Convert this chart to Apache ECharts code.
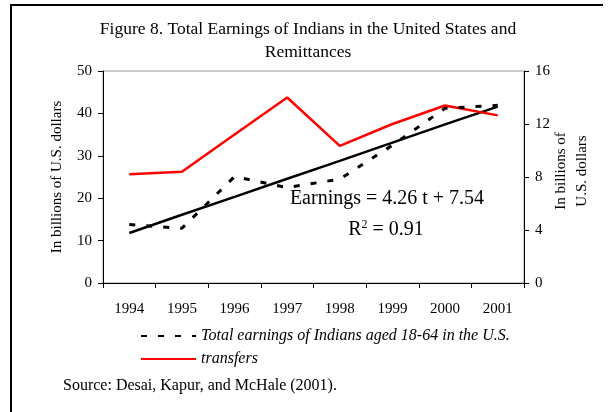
<!DOCTYPE html>
<html>
<head>
<meta charset="utf-8">
<script src="https://cdn.jsdelivr.net/npm/echarts@6/dist/echarts.min.js"></script>
<style>
  html, body { margin: 0; padding: 0; background: #fff; overflow: hidden; }
  #chart { width: 608px; height: 412px; }
</style>
</head>
<body>
<div id="chart"></div>
<script>
// years on the category axis
const years = ['1994', '1995', '1996', '1997', '1998', '1999', '2000', '2001'];
// total earnings, billions US$ (left axis)
const earnings = [13.8, 12.9, 25.1, 22.5, 24.5, 32.5, 41.2, 41.9];
// fitted trend: Earnings = 4.26 t + 7.54
const trend = [11.8, 16.1, 20.3, 24.6, 28.8, 33.1, 37.4, 41.6];
// remittance transfers, billions US$ (right axis)
const transfers = [8.2, 8.4, 11.2, 14.0, 10.35, 12.0, 13.4, 12.65];

const leftTicks = { min: 0, max: 50, interval: 10 };
const rightTicks = { min: 0, max: 16, interval: 4 };

const serif = 'Liberation Serif';
const chart = echarts.init(document.getElementById('chart'));

chart.setOption({
  animation: false,
  textStyle: { fontFamily: serif, color: '#000' },
  grid: {
    left: 103, right: 84, top: 71, bottom: 129,
    outerBoundsMode: 'none',
    show: true, borderColor: '#999', borderWidth: 1
  },
  legend: {
    orient: 'vertical',
    left: 135, top: 323,
    itemWidth: 55, itemHeight: 12, itemGap: 7,
    itemStyle: { opacity: 0 },
    textStyle: { fontFamily: serif, fontStyle: 'italic', fontSize: 16, color: '#000' },
    data: [
      { name: 'Total earnings of Indians aged 18-64 in the U.S.' },
      { name: 'transfers' }
    ]
  },
  xAxis: {
    type: 'category',
    data: years,
    boundaryGap: true,
    axisLine: { lineStyle: { color: '#000', width: 1 } },
    axisTick: { show: true, inside: false, length: 5, lineStyle: { color: '#000' } },
    axisLabel: { fontFamily: serif, fontSize: 15, color: '#000', margin: 19 }
  },
  yAxis: [
    {
      type: 'value',
      position: 'left',
      ...leftTicks,
      name: 'In billions of U.S. dollars',
      nameLocation: 'middle',
      nameRotate: 90,
      nameGap: 38,
      nameTextStyle: { fontFamily: serif, fontSize: 15, color: '#000' },
      axisLine: { show: true, lineStyle: { color: '#000' } },
      axisTick: { show: true, length: 5, lineStyle: { color: '#000' } },
      axisLabel: { fontFamily: serif, fontSize: 15, color: '#000', margin: 11 },
      splitLine: { show: false }
    },
    {
      type: 'value',
      position: 'right',
      ...rightTicks,
      name: 'In billions of\nU.S. dollars',
      nameLocation: 'middle',
      nameRotate: 90,
      nameGap: 27,
      nameMoveOverlap: false,
      nameTextStyle: { fontFamily: serif, fontSize: 15, color: '#000', lineHeight: 21, padding: [0, 0, 0, 12] },
      axisLine: { show: true, lineStyle: { color: '#000' } },
      axisTick: { show: true, length: 5, lineStyle: { color: '#000' } },
      axisLabel: { fontFamily: serif, fontSize: 15, color: '#000', margin: 11 },
      splitLine: { show: false }
    }
  ],
  series: [
    {
      name: 'transfers',
      type: 'line',
      yAxisIndex: 1,
      data: transfers,
      symbol: 'none',
      lineStyle: { color: '#ff0000', width: 2.5 },
      itemStyle: { color: '#ff0000' },
      z: 3
    },
    {
      name: 'Total earnings of Indians aged 18-64 in the U.S.',
      type: 'line',
      yAxisIndex: 0,
      data: earnings,
      symbol: 'none',
      lineStyle: { color: '#000', width: 3, type: [6, 11] },
      itemStyle: { color: '#000' },
      z: 4
    },
    {
      name: 'trend',
      type: 'line',
      yAxisIndex: 0,
      data: trend,
      symbol: 'none',
      lineStyle: { color: '#000', width: 2.5 },
      itemStyle: { color: '#000' },
      z: 2
    }
  ],
  graphic: [
    {
      type: 'polyline',
      shape: { points: [[11, 412], [11, 5], [603, 5]] },
      style: { fill: null, stroke: '#000', lineWidth: 2 },
      silent: true, z: -1
    },
    {
      type: 'text',
      x: 308, y: 18,
      style: {
        text: 'Figure 8. Total Earnings of Indians in the United States and\nRemittances',
        font: '17.5px "Liberation Serif"',
        align: 'center', lineHeight: 23, fill: '#000'
      }
    },
    {
      type: 'text',
      x: 387, y: 189,
      style: {
        text: 'Earnings = 4.26 t + 7.54',
        font: '20px "Liberation Serif"',
        align: 'center', fill: '#000'
      }
    },
    {
      type: 'text',
      x: 386, y: 219,
      style: {
        text: '{b|R}{s|2}{b| = 0.91}',
        align: 'center', fill: '#000',
        rich: {
          b: { fontFamily: serif, fontSize: 20, fill: '#000', color: '#000' },
          s: { fontFamily: serif, fontSize: 12, fill: '#000', color: '#000', verticalAlign: 'top', padding: [0, 0, 10, 0] }
        }
      }
    },
    {
      type: 'text',
      x: 63, y: 378,
      style: {
        text: 'Source: Desai, Kapur, and McHale (2001).',
        font: '16px "Liberation Serif"',
        fill: '#000'
      }
    }
  ]
});
</script>
</body>
</html>
